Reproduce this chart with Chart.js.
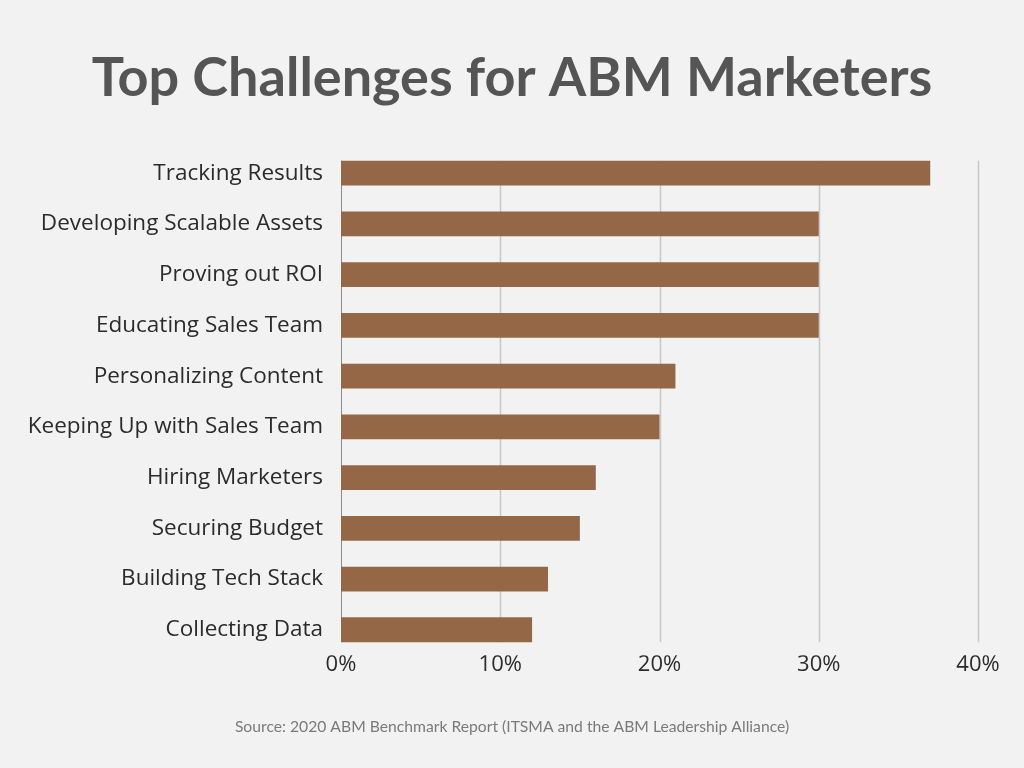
<!DOCTYPE html>
<html>
<head>
<meta charset="utf-8">
<script src="https://cdn.jsdelivr.net/npm/chart.js@4.4.1/dist/chart.umd.min.js"></script>
<style>
  html, body { margin: 0; padding: 0; background: #f2f2f2; }
  #wrap { width: 1024px; height: 768px; }
</style>
</head>
<body>
<div id="wrap"><canvas id="chart" width="1024" height="768"></canvas></div>
<script>
// data
const challenges = [
    'Tracking Results',
    'Developing Scalable Assets',
    'Proving out ROI',
    'Educating Sales Team',
    'Personalizing Content',
    'Keeping Up with Sales Team',
    'Hiring Marketers',
    'Securing Budget',
    'Building Tech Stack',
    'Collecting Data'
];
const shares = [37, 30, 30, 30, 21, 20, 16, 15, 13, 12];
const xTicks = [0, 10, 20, 30, 40];

const TITLE_FONT = "Lato, sans-serif";
const FONT = "'Open Sans', sans-serif";

// vertical grid lines, only between first and last bar
const gridPlugin = {
    id: 'shortGrid',
    beforeDatasetsDraw(chart) {
        const bars = chart.getDatasetMeta(0).data;
        if (!bars.length) return;
        const top = bars[0].y - bars[0].height / 2;
        const bottom = bars[bars.length - 1].y + bars[bars.length - 1].height / 2;
        const x = chart.scales.x;
        const ctx = chart.ctx;
        ctx.save();
        xTicks.forEach(v => {
            const px = Math.round(x.getPixelForValue(v)) + 0.5;
            ctx.beginPath();
            ctx.strokeStyle = v === 0 ? '#8c8c8c' : '#c8c8c8';
            ctx.lineWidth = v === 0 ? 1 : 1.5;
            ctx.moveTo(px, top);
            ctx.lineTo(px, bottom);
            ctx.stroke();
        });
        ctx.restore();
    }
};

const ctx = document.getElementById('chart').getContext('2d');
new Chart(ctx, {
    type: 'bar',
    data: {
        labels: challenges,
        datasets: [{
            data: shares,
            backgroundColor: '#946846',
            borderWidth: 0,
            barPercentage: 0.49,
            categoryPercentage: 1
        }]
    },
    options: {
        indexAxis: 'y',
        responsive: false,
        animation: false,
        layout: { padding: 0 },
        plugins: {
            legend: { display: false },
            tooltip: { enabled: false },
            title: {
                display: true,
                text: 'Top Challenges for ABM Marketers',
                color: '#555555',
                font: { family: TITLE_FONT, size: 54, weight: 'bold' },
                padding: { top: 46, bottom: 37 }
            },
            subtitle: {
                display: true,
                position: 'bottom',
                text: 'Source: 2020 ABM Benchmark Report (ITSMA and the ABM Leadership Alliance)',
                color: '#7a7a7a',
                font: { family: TITLE_FONT, size: 15.7 },
                padding: { top: 10, bottom: 32 }
            }
        },
        scales: {
            x: {
                min: 0,
                max: 40,
                afterBuildTicks: (s) => { s.ticks = xTicks.map(v => ({ value: v })); },
                afterFit: (s) => { s.height = 52; },
                grid: { display: false, drawTicks: false },
                border: { display: false },
                ticks: {
                    color: '#2b2b2b',
                    padding: -4,
                    font: { family: FONT, size: 22 },
                    callback: (v) => v + '%'
                }
            },
            y: {
                afterFit: (s) => { s.width = 341; },
                grid: { display: false, drawTicks: false },
                border: { display: false },
                ticks: {
                    color: '#2b2b2b',
                    padding: 18,
                    font: { family: FONT, size: 22.5 }
                }
            },
            // empty right-hand axis, only reserves the right margin
            yRight: {
                position: 'right',
                afterFit: (s) => { s.width = 46; },
                grid: { display: false, drawTicks: false },
                border: { display: false },
                ticks: { display: false }
            }
        }
    },
    plugins: [gridPlugin]
});
</script>
</body>
</html>
